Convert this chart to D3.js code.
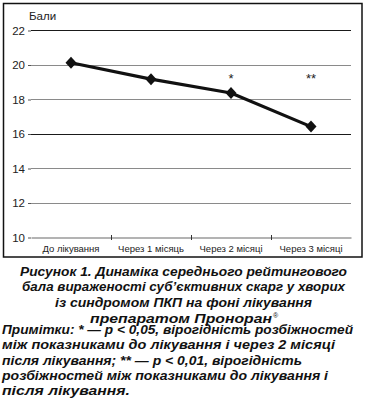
<!DOCTYPE html>
<html>
<head>
<meta charset="utf-8">
<script src="https://cdn.jsdelivr.net/npm/d3@7"></script>
<style>
  body { margin: 0; background: #fff; }
  svg { display: block; font-family: "Liberation Sans", Arial, sans-serif; }
</style>
</head>
<body>
<div id="chart"></div>
<script>
// chart data
const categories = ['До лікування', 'Через 1 місяць', 'Через 2 місяці', 'Через 3 місяці'];
const scores = [20.1, 19.15, 18.35, 16.4];
const marks = ['', '', '*', '**'];
const yTicks = [10, 12, 14, 16, 18, 20, 22];
const darkTicks = [22, 16];

const captionLines = [
  'Рисунок 1. Динаміка середнього рейтингового',
  'бала вираженості суб’єктивних скарг у хворих',
  'із синдромом ПКП на фоні лікування',
  'препаратом Проноран'
];
const noteLines = [
  'Примітки: * — р < 0,05, вірогідність розбіжностей',
  'між показниками до лікування і через 2 місяці',
  'після лікування; ** — р < 0,01, вірогідність',
  'розбіжностей між показниками до лікування і',
  'після лікування.'
];

const width = 366;
const height = 400;

const svg = d3.select('#chart')
  .append('svg')
  .attr('width', width)
  .attr('height', height);

// outer frame
svg.append('rect')
  .attr('x', 3.5).attr('y', 3.5)
  .attr('width', 358.5).attr('height', 253.5)
  .attr('fill', 'none')
  .attr('stroke', '#111')
  .attr('stroke-width', 1.5);

const plot = { left: 31, right: 351, top: 30, bottom: 237 };

const xScale = d3.scaleBand()
  .domain(categories)
  .range([plot.left, plot.right]);

const yScale = d3.scaleLinear()
  .domain([10, 22])
  .range([plot.bottom, plot.top]);

// gridlines
svg.append('g')
  .attr('class', 'gridlines')
  .selectAll('line')
  .data(yTicks.filter(d => d !== 10))
  .join('line')
  .attr('x1', plot.left)
  .attr('x2', plot.right)
  .attr('y1', d => Math.round(yScale(d)) + 0.5)
  .attr('y2', d => Math.round(yScale(d)) + 0.5)
  .attr('stroke', d => darkTicks.includes(d) ? '#1a1a1a' : '#8a8a8a')
  .attr('stroke-width', 1.2);

// y axis (ticks + labels, no domain line)
const yAxis = svg.append('g')
  .attr('transform', `translate(${plot.left}, 0.5)`)
  .call(d3.axisLeft(yScale).tickValues(yTicks).tickSize(3).tickPadding(3));
yAxis.select('.domain').remove();
yAxis.selectAll('line').attr('stroke', '#555');
yAxis.selectAll('text')
  .attr('font-size', 11.5)
  .attr('font-family', '"Liberation Sans", Arial, sans-serif')
  .attr('fill', '#222');

// x axis
const xAxis = svg.append('g')
  .attr('transform', `translate(0, ${Math.round(yScale(10)) + 0.5})`)
  .call(d3.axisBottom(xScale).tickSize(0).tickPadding(8));
xAxis.select('.domain').attr('stroke', '#9a9a9a').attr('stroke-width', 1.5);
xAxis.selectAll('text')
  .attr('font-size', 9.5)
  .attr('font-family', '"Liberation Sans", Arial, sans-serif')
  .attr('fill', '#222');

// category separators on the x axis
svg.append('g')
  .selectAll('line')
  .data(categories.slice(1))
  .join('line')
  .attr('x1', d => xScale(d) + 0.5)
  .attr('x2', d => xScale(d) + 0.5)
  .attr('y1', yScale(10) - 2)
  .attr('y2', yScale(10) + 3)
  .attr('stroke', '#333');

// axis title
svg.append('text')
  .attr('x', 29)
  .attr('y', 20)
  .attr('font-size', 11.5)
  .attr('fill', '#222')
  .text('Бали');

// the line
const points = categories.map((c, i) => ({ cat: c, value: scores[i], mark: marks[i] }));

svg.append('path')
  .datum(points)
  .attr('fill', 'none')
  .attr('stroke', '#111')
  .attr('stroke-width', 3.2)
  .attr('stroke-linejoin', 'round')
  .attr('d', d3.line()
    .x(d => xScale(d.cat) + xScale.bandwidth() / 2)
    .y(d => yScale(d.value)));

svg.append('g')
  .selectAll('path')
  .data(points)
  .join('path')
  .attr('transform', d => `translate(${xScale(d.cat) + xScale.bandwidth() / 2}, ${yScale(d.value)})`)
  .attr('d', 'M0,-6L5.5,0L0,6L-5.5,0Z')
  .attr('fill', '#111');

// significance marks
svg.append('g')
  .selectAll('text')
  .data(points.filter(d => d.mark))
  .join('text')
  .attr('x', d => xScale(d.cat) + xScale.bandwidth() / 2)
  .attr('y', 83)
  .attr('text-anchor', 'middle')
  .attr('font-size', 13)
  .attr('fill', '#222')
  .text(d => d.mark);

// caption
const captionX = [[20, 347], [22, 345], [55, 312], [90, 272]];
const caption = svg.append('g')
  .attr('font-size', 12.5)
  .attr('font-weight', 'bold')
  .attr('font-style', 'italic')
  .attr('fill', '#111');

caption.selectAll('text')
  .data(captionLines)
  .join('text')
  .attr('x', (d, i) => captionX[i][0])
  .attr('y', (d, i) => 275.5 + i * 15.8)
  .attr('textLength', (d, i) => captionX[i][1] - captionX[i][0])
  .attr('lengthAdjust', 'spacingAndGlyphs')
  .text(d => d);

// registered mark after the drug name
caption.append('text')
  .attr('x', 273)
  .attr('y', 275.5 + 3 * 15.8 - 5)
  .attr('font-size', 7)
  .attr('font-style', 'normal')
  .attr('font-weight', 'normal')
  .text('®');

const noteRight = [353, 335, 302, 328, 130];
svg.append('g')
  .attr('font-size', 12.5)
  .attr('font-weight', 'bold')
  .attr('font-style', 'italic')
  .attr('fill', '#111')
  .selectAll('text')
  .data(noteLines)
  .join('text')
  .attr('x', 2)
  .attr('y', (d, i) => 334 + i * 15.3)
  .attr('textLength', (d, i) => noteRight[i] - 2)
  .attr('lengthAdjust', 'spacingAndGlyphs')
  .text(d => d);
</script>
</body>
</html>
